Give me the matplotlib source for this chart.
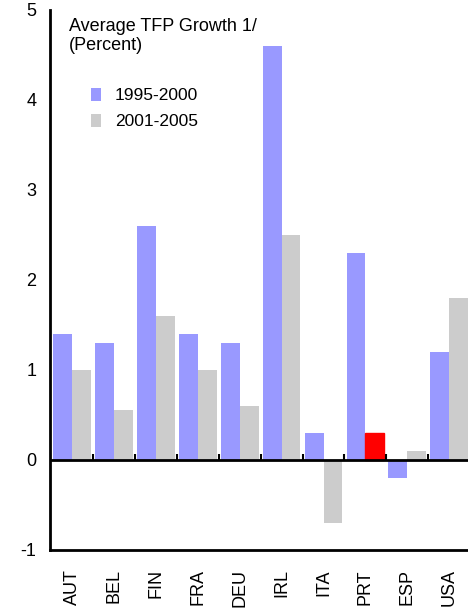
import matplotlib.pyplot as plt
import numpy as np

plt.rcParams['font.family'] = ['Liberation Sans', 'DejaVu Sans']
plt.rcParams['axes.unicode_minus'] = False

countries = ['AUT', 'BEL', 'FIN', 'FRA', 'DEU', 'IRL', 'ITA', 'PRT', 'ESP', 'USA']
g_1995_2000 = [1.4, 1.3, 2.6, 1.4, 1.3, 4.6, 0.3, 2.3, -0.2, 1.2]
g_2001_2005 = [1.0, 0.55, 1.6, 1.0, 0.6, 2.5, -0.7, 0.3, 0.1, 1.8]

fig = plt.figure(figsize=(4.68, 6.15), dpi=100)
ax = fig.add_axes([0.107, 0.106, 0.893, 0.878])

x = np.arange(len(countries))
w = 0.45
ax.bar(x - w / 2, g_1995_2000, w, color='#9999FF', label='1995-2000')
bars2 = ax.bar(x + w / 2, g_2001_2005, w, color='#CCCCCC', label='2001-2005')
bars2[countries.index('PRT')].set_color('#FF0000')

# zero line with small upward ticks between groups
ax.axhline(0, color='black', lw=2)
ax.vlines(x[:-1] + 0.5, 0, 0.07, color='black', lw=1.5)

ax.set_xlim(-0.53, 9.45)
ax.set_ylim(-1, 5)
ax.set_yticks(range(-1, 6))
ax.set_xticks(x)
ax.set_xticklabels(countries, rotation=90, fontsize=13)
ax.tick_params(axis='x', length=0, pad=14)
ax.tick_params(axis='y', length=0, labelsize=13, pad=10)
for s in ['top', 'right']:
    ax.spines[s].set_visible(False)
for s in ['left', 'bottom']:
    ax.spines[s].set_linewidth(2)

ax.text(0.045, 0.985, 'Average TFP Growth 1/\n(Percent)',
        transform=ax.transAxes, va='top', ha='left', fontsize=13, linespacing=1.15)
ax.legend(loc='upper left', bbox_to_anchor=(0.06, 0.885), frameon=False,
          fontsize=12.5, handlelength=0.6, handleheight=0.8, handletextpad=0.8,
          labelspacing=0.6)

fig.savefig('out.png')
